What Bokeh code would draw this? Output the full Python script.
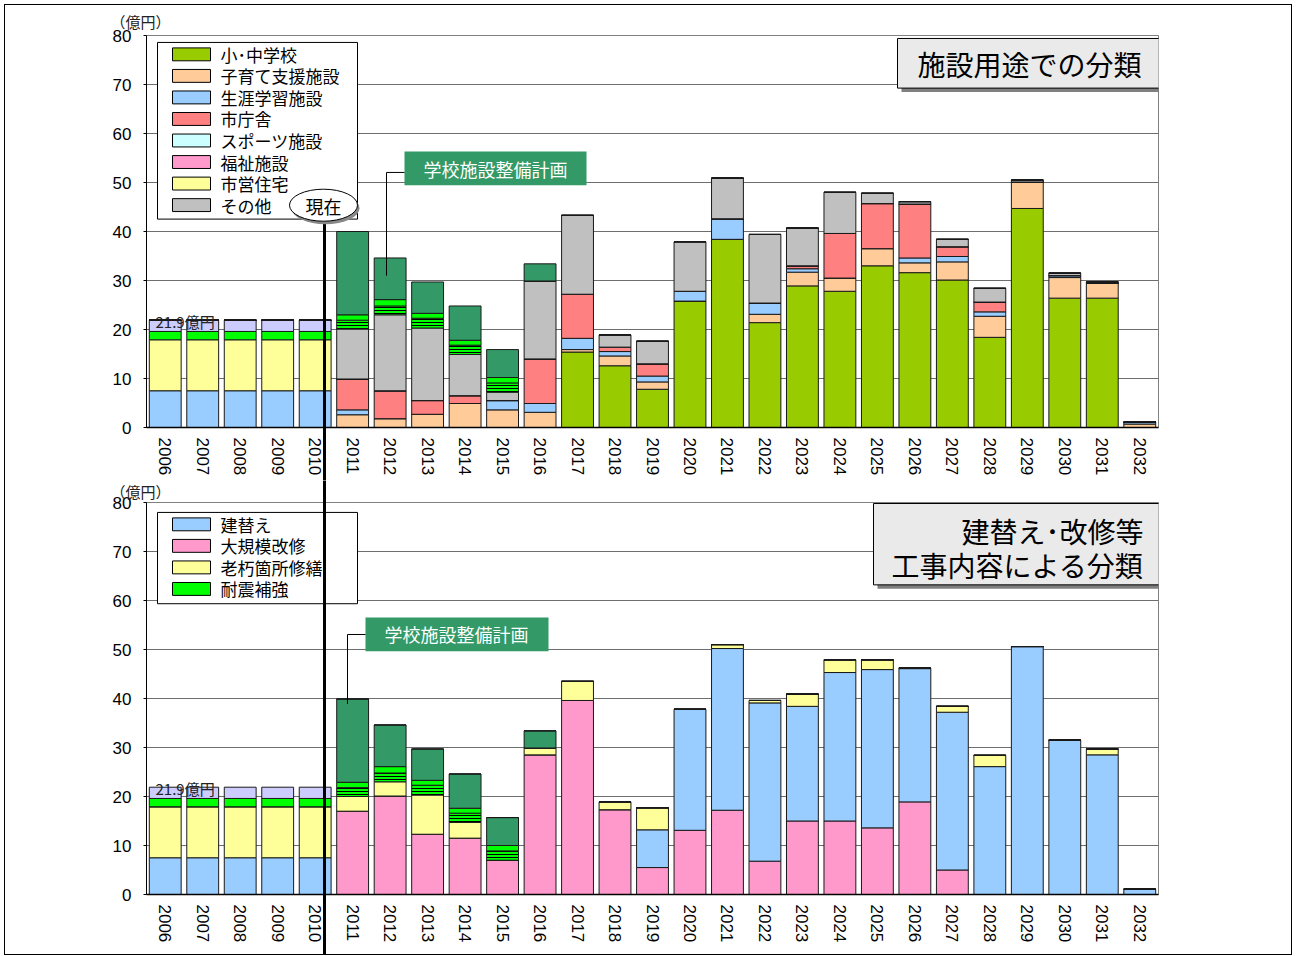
from bokeh.plotting import figure
from bokeh.models import Range1d, FixedTicker, ColumnDataSource, Title, LinearAxis
from bokeh.layouts import column
from bokeh.embed import file_html
from bokeh.resources import INLINE
from bokeh.core.properties import value

# ---------------- data ----------------
years = ["2006", "2007", "2008", "2009", "2010", "2011", "2012", "2013", "2014",
         "2015", "2016", "2017", "2018", "2019", "2020", "2021", "2022", "2023",
         "2024", "2025", "2026", "2027", "2028", "2029", "2030", "2031", "2032"]
y_ticks = [0, 10, 20, 30, 40, 50, 60, 70, 80]

# 2006-2010 (past average, 21.9 億円)
past_rebuild = [7.5, 7.5, 7.5, 7.5, 7.5]
past_repair = [10.4, 10.4, 10.4, 10.4, 10.4]
past_seismic = [1.7, 1.7, 1.7, 1.7, 1.7]
past_other = [2.3, 2.3, 2.3, 2.3, 2.3]

# 2011-2032, by facility use (upper chart)
school = [0, 0, 0, 0, 0, 0, 15.4, 12.6, 7.8, 25.8, 38.4, 21.4, 28.9, 27.8, 33.0, 31.6, 30.1, 18.4, 44.7, 26.4, 26.4, 0]
childcare = [2.6, 1.8, 2.7, 4.9, 3.6, 3.1, 0.5, 2.0, 1.5, 0, 0, 1.7, 2.8, 2.7, 3.5, 2.0, 3.7, 4.3, 5.4, 4.2, 3.1, 0.7]
lifelong = [1.0, 0, 0, 0, 1.9, 1.8, 2.3, 0.9, 1.2, 2.0, 4.2, 2.3, 0.7, 0, 0, 1.0, 1.1, 0.9, 0, 0.4, 0, 0.4]
cityhall = [6.3, 5.7, 2.8, 1.6, 0, 9.1, 9.0, 0.9, 2.5, 0, 0, 0, 0.6, 9.1, 9.2, 11.0, 2.0, 2.0, 0, 0, 0, 0]
sports = [0, 0, 0, 0, 0, 0, 0, 0, 0, 0, 0, 0, 0, 0, 0, 0, 0, 0, 0, 0, 0, 0]
welfare = [0, 0, 0, 0, 0, 0, 0, 0, 0, 0, 0, 0, 0, 0, 0, 0, 0, 0, 0, 0, 0, 0]
housing = [0, 0, 0, 0, 0, 0, 0, 0, 0, 0, 0, 0, 0, 0, 0, 0, 0, 0, 0, 0, 0, 0]
other = [10.2, 15.5, 14.8, 8.4, 1.7, 15.9, 16.1, 2.5, 4.6, 10.1, 8.3, 14.0, 7.7, 8.4, 2.1, 0.5, 1.5, 2.8, 0.4, 0.5, 0.2, 0]

# 2011-2032, school seismic work and school facility plan (both charts)
seismic_striped = [1.8, 1.8, 2.0, 1.9, 1.9, 0, 0, 0, 0, 0, 0, 0, 0, 0, 0, 0, 0, 0, 0, 0, 0, 0]
seismic_plain = [1.1, 1.3, 1.0, 1.0, 1.1, 0, 0, 0, 0, 0, 0, 0, 0, 0, 0, 0, 0, 0, 0, 0, 0, 0]
school_plan = [17.0, 8.5, 6.4, 7.0, 5.7, 3.5, 0, 0, 0, 0, 0, 0, 0, 0, 0, 0, 0, 0, 0, 0, 0, 0]

# 2011-2032, by work type (lower chart)
renovation = [17.0, 20.1, 12.3, 11.5, 7.0, 28.5, 39.6, 17.3, 5.5, 13.1, 17.2, 6.8, 15.0, 15.0, 13.6, 18.9, 5.0, 0, 0, 0, 0, 0]
rebuild = [0, 0, 0, 0, 0, 0, 0, 0, 7.7, 24.7, 33.0, 32.3, 23.4, 30.3, 32.3, 27.2, 32.2, 26.1, 50.6, 31.5, 28.5, 1.1]
repair = [3.0, 2.9, 8.0, 3.2, 0, 1.4, 3.9, 1.6, 4.5, 0, 0.8, 0.5, 2.5, 2.6, 2.0, 0.1, 1.2, 2.3, 0, 0, 1.2, 0]

top_labels = ["小･中学校", "子育て支援施設", "生涯学習施設", "市庁舎", "スポーツ施設", "福祉施設", "市営住宅", "その他"]
bot_labels = ["建替え", "大規模改修", "老朽箇所修繕", "耐震補強"]

# ---------------- layout constants ----------------
JP = "Noto Sans CJK JP"
NUM = "Liberation Sans"
MIX = "Liberation Sans, 'Noto Sans CJK JP'"
FL, FR = 146.0, 1158.0            # frame left/right (px)
NCAT = len(years)
SLOT = (FR - FL) / NCAT
PX10 = 49.375                     # px per 10 億円
TOP0, BOT0 = 430.0, 897.0         # y=0 pixel rows
ORG_X, ORG_Y = 5, 5               # page origin of the figures (margin + border)
TOP_END = 480                     # page row where the upper figure ends
BOT_END = 954
FIG_W = 1286
AXIS_EXT = 48                     # approx. extent of the year-label axis


def dx(px):
    return (px - FL) / SLOT


def dyt(py):
    return (TOP0 - py) / PX10 * 10


def dyb(py):
    return (BOT0 - py) / PX10 * 10


Z5 = [0, 0, 0, 0, 0]
Z22 = [0] * 22
XNOW = dx(324)                    # 現在 line position
centers = [i + 0.5 for i in range(NCAT)]   # slot centre of each year category

C_SCHOOL, C_CHILD, C_LIFE, C_CITY = "#99CC00", "#FFCC99", "#99CCFF", "#FF8080"
C_SPORT, C_WELF, C_HOUSE, C_OTHER = "#CCFFFF", "#FF99CC", "#FFFF99", "#C0C0C0"
C_SEIS, C_PLAN, C_LAV = "#00FF00", "#339966", "#CCCCFF"


def line_axis(tick_in, tick_out):
    """Axis carrying only the 現在 line (as a minor tick) through the margins."""
    a = LinearAxis(ticker=FixedTicker(ticks=[], minor_ticks=[XNOW]))
    a.axis_line_color = None
    a.major_tick_out = 0
    a.major_tick_in = 0
    a.major_label_standoff = 0
    a.minor_tick_in = tick_in
    a.minor_tick_out = tick_out
    a.minor_tick_line_width = 3
    a.minor_tick_line_color = "black"
    return a


def make_fig(top_px, end_px, frame_top, frame_bot):
    p = figure(width=FIG_W, height=end_px - top_px, x_range=Range1d(0, NCAT),
               y_range=Range1d(0, 80), output_backend="svg", toolbar_location=None, x_axis_type=None,
               min_border_left=int(FL - ORG_X), min_border_right=int(FIG_W - (FR - ORG_X)),
               min_border_top=int(frame_top - top_px), min_border_bottom=int(end_px - frame_bot),
               border_fill_color="white", background_fill_color="white")
    p.outline_line_color = "#808080"
    p.ygrid.grid_line_color = "#6e6e6e"
    p.ygrid.grid_line_width = 1
    p.yaxis.ticker = FixedTicker(ticks=y_ticks)
    p.yaxis.minor_tick_line_color = None
    p.yaxis.major_tick_out = 3
    p.yaxis.major_tick_in = 0
    p.yaxis.major_label_standoff = 12
    p.yaxis.axis_line_color = "black"
    p.yaxis.major_label_text_font = NUM
    p.yaxis.major_label_text_font_size = "17px"
    p.yaxis.major_label_text_color = "black"

    xa = LinearAxis(ticker=FixedTicker(ticks=centers),
                    major_label_overrides={c: y for c, y in zip(centers, years)})
    xa.major_label_orientation = "vertical"
    xa.major_tick_out = 0
    xa.major_tick_in = 0
    xa.minor_tick_line_color = None
    xa.major_label_standoff = 10
    xa.axis_line_color = "black"
    xa.axis_line_width = 1.5
    xa.major_label_text_font = NUM
    xa.major_label_text_font_size = "17px"
    xa.major_label_text_color = "black"
    p.add_layout(xa, "below")
    rest = int(end_px - frame_bot - AXIS_EXT)
    p.add_layout(line_axis(AXIS_EXT + 4, max(rest, 0)), "below")
    return p


def add_unit_title(p, standoff):
    t = Title(text="（億円）", align="left", offset=-36, text_font=MIX, text_font_size="15px",
              text_font_style="normal", text_color="#222222", standoff=standoff)
    p.add_layout(t, "above")


def manual_legend(p, dy, box, labels, colors):
    # box: (left, top, right, bottom) in page px; rows every 21.7 px
    l, t, r, b = box
    p.quad(left=[dx(l)], right=[dx(r)], top=[dy(t)], bottom=[dy(b)], fill_color="white",
           line_color="black", line_width=1)
    rows = [t + 12 + 21.7 * i for i in range(len(labels))]
    p.quad(left=[dx(l + 15)] * len(rows), right=[dx(l + 53)] * len(rows),
           top=[dy(y - 6.5) for y in rows], bottom=[dy(y + 6.5) for y in rows],
           fill_color=colors, line_color="black", line_width=1)
    p.text(x=[dx(l + 63)] * len(rows), y=[dy(y) for y in rows], text=labels, text_font=value(JP),
           text_font_size="17px", text_align="left", text_baseline="middle", text_color="black")


# ================= upper chart =================
p1 = make_fig(ORG_Y, TOP_END, 35, TOP0)
add_unit_title(p1, 10)
src1 = ColumnDataSource(dict(
    x=centers,
    p_reb=past_rebuild + Z22, p_rep=past_repair + Z22, p_sei=past_seismic + Z22, p_oth=past_other + Z22,
    school=Z5 + school, child=Z5 + childcare, life=Z5 + lifelong, city=Z5 + cityhall,
    sport=Z5 + sports, welf=Z5 + welfare, house=Z5 + housing, other=Z5 + other,
    s_str=Z5 + seismic_striped, s_pl=Z5 + seismic_plain, plan=Z5 + school_plan))
st1 = ["p_reb", "p_rep", "p_sei", "p_oth", "school", "child", "life", "city", "sport", "welf",
       "house", "other", "s_str", "s_pl", "plan"]
cols1 = [C_LIFE, C_HOUSE, C_SEIS, C_LAV, C_SCHOOL, C_CHILD, C_LIFE, C_CITY, C_SPORT, C_WELF,
         C_HOUSE, C_OTHER, C_SEIS, C_SEIS, C_PLAN]
hat1 = [" "] * 12 + ["horizontal_line", " ", " "]
p1.vbar_stack(st1, x="x", width=0.85, source=src1, fill_color=cols1, line_color="#1a1a1a",
              line_width=1, hatch_pattern=hat1, hatch_color="black", hatch_scale=3, hatch_weight=1)

manual_legend(p1, dyt, (157, 42, 357, 220), top_labels,
              [C_SCHOOL, C_CHILD, C_LIFE, C_CITY, C_SPORT, C_WELF, C_HOUSE, C_OTHER])

# title box
p1.quad(left=[dx(901)], right=[dx(1164)], top=[dyt(42)], bottom=[dyt(92)], fill_color="#7F7F7F", line_color=None)
p1.quad(left=[dx(897)], right=[dx(1160)], top=[dyt(38)], bottom=[dyt(88)], fill_color="#EAEAEA",
        line_color="black", line_width=1)
p1.text(x=[dx(1029)], y=[dyt(64)], text=["施設用途での分類"], text_font=value(JP), text_font_size="28px",
        text_align="center", text_baseline="middle", text_color="black")

# school plan callout
p1.quad(left=[dx(404)], right=[dx(586)], top=[dyt(152)], bottom=[dyt(186)], fill_color=C_PLAN, line_color=None)
p1.text(x=[dx(495)], y=[dyt(170)], text=["学校施設整備計画"], text_font=value(JP), text_font_size="18px",
        text_align="center", text_baseline="middle", text_color="white")
p1.line(x=[dx(404), dx(386), dx(386)], y=[dyt(173), dyt(173), dyt(277)], line_color="black", line_width=1)

# 21.9 label
p1.text(x=[dx(155)], y=[dyt(323)], text=["21.9億円"], text_font=value(JP), text_font_size="15px",
        text_align="left", text_baseline="middle", text_color="#222222")

# 現在 marker
p1.segment(x0=[XNOW], y0=[dyt(222)], x1=[XNOW], y1=[-20], line_color="black", line_width=3)
p1.ellipse(x=[dx(325)], y=[dyt(209)], width=68, height=32, width_units="screen", height_units="screen",
           fill_color="#888888", line_color=None)
p1.ellipse(x=[dx(323)], y=[dyt(206)], width=68, height=32, width_units="screen", height_units="screen",
           fill_color="white", line_color="black", line_width=1)
p1.text(x=[dx(323)], y=[dyt(207)], text=["現在"], text_font=value(JP), text_font_size="18px",
        text_align="center", text_baseline="middle", text_color="black")

# ================= lower chart =================
p2 = make_fig(TOP_END, BOT_END, 502, BOT0)
add_unit_title(p2, 3)
p2.add_layout(line_axis(30, 0), "above")

src2 = ColumnDataSource(dict(
    x=centers,
    reno=Z5 + renovation, reb=past_rebuild + rebuild, rep=past_repair + repair,
    s_str=Z5 + seismic_striped, s_pl=past_seismic + seismic_plain, plan=Z5 + school_plan,
    p_oth=past_other + Z22))
st2 = ["reno", "reb", "rep", "s_str", "s_pl", "plan", "p_oth"]
cols2 = [C_WELF, C_LIFE, C_HOUSE, C_SEIS, C_SEIS, C_PLAN, C_LAV]
hat2 = [" ", " ", " ", "horizontal_line", " ", " ", " "]
p2.vbar_stack(st2, x="x", width=0.85, source=src2, fill_color=cols2, line_color="#1a1a1a",
              line_width=1, hatch_pattern=hat2, hatch_color="black", hatch_scale=3, hatch_weight=1)

manual_legend(p2, dyb, (157, 512, 357, 604), bot_labels, [C_LIFE, C_WELF, C_HOUSE, C_SEIS])

p2.quad(left=[dx(877)], right=[dx(1167)], top=[dyb(507)], bottom=[dyb(589)], fill_color="#7F7F7F", line_color=None)
p2.quad(left=[dx(873)], right=[dx(1163)], top=[dyb(503)], bottom=[dyb(585)], fill_color="#EAEAEA",
        line_color="black", line_width=1)
p2.text(x=[dx(1143), dx(1143)], y=[dyb(531), dyb(565)], text=["建替え･改修等", "工事内容による分類"],
        text_font=value(JP), text_font_size="28px", text_align="right", text_baseline="middle",
        text_color="black")

p2.quad(left=[dx(365)], right=[dx(548)], top=[dyb(618)], bottom=[dyb(652)], fill_color=C_PLAN, line_color=None)
p2.text(x=[dx(456)], y=[dyb(635)], text=["学校施設整備計画"], text_font=value(JP), text_font_size="18px",
        text_align="center", text_baseline="middle", text_color="white")
p2.line(x=[dx(365), dx(347), dx(347)], y=[dyb(635), dyb(635), dyb(705)], line_color="black", line_width=1)

p2.text(x=[dx(155)], y=[dyb(790)], text=["21.9億円"], text_font=value(JP), text_font_size="15px",
        text_align="left", text_baseline="middle", text_color="#222222")

p2.segment(x0=[XNOW], y0=[100], x1=[XNOW], y1=[-20], line_color="black", line_width=3)

layout = column(p1, p2, styles={"border": "1px solid black", "margin-left": "4px", "margin-top": "4px"})
open("out.html", "w").write(file_html(layout, INLINE))
